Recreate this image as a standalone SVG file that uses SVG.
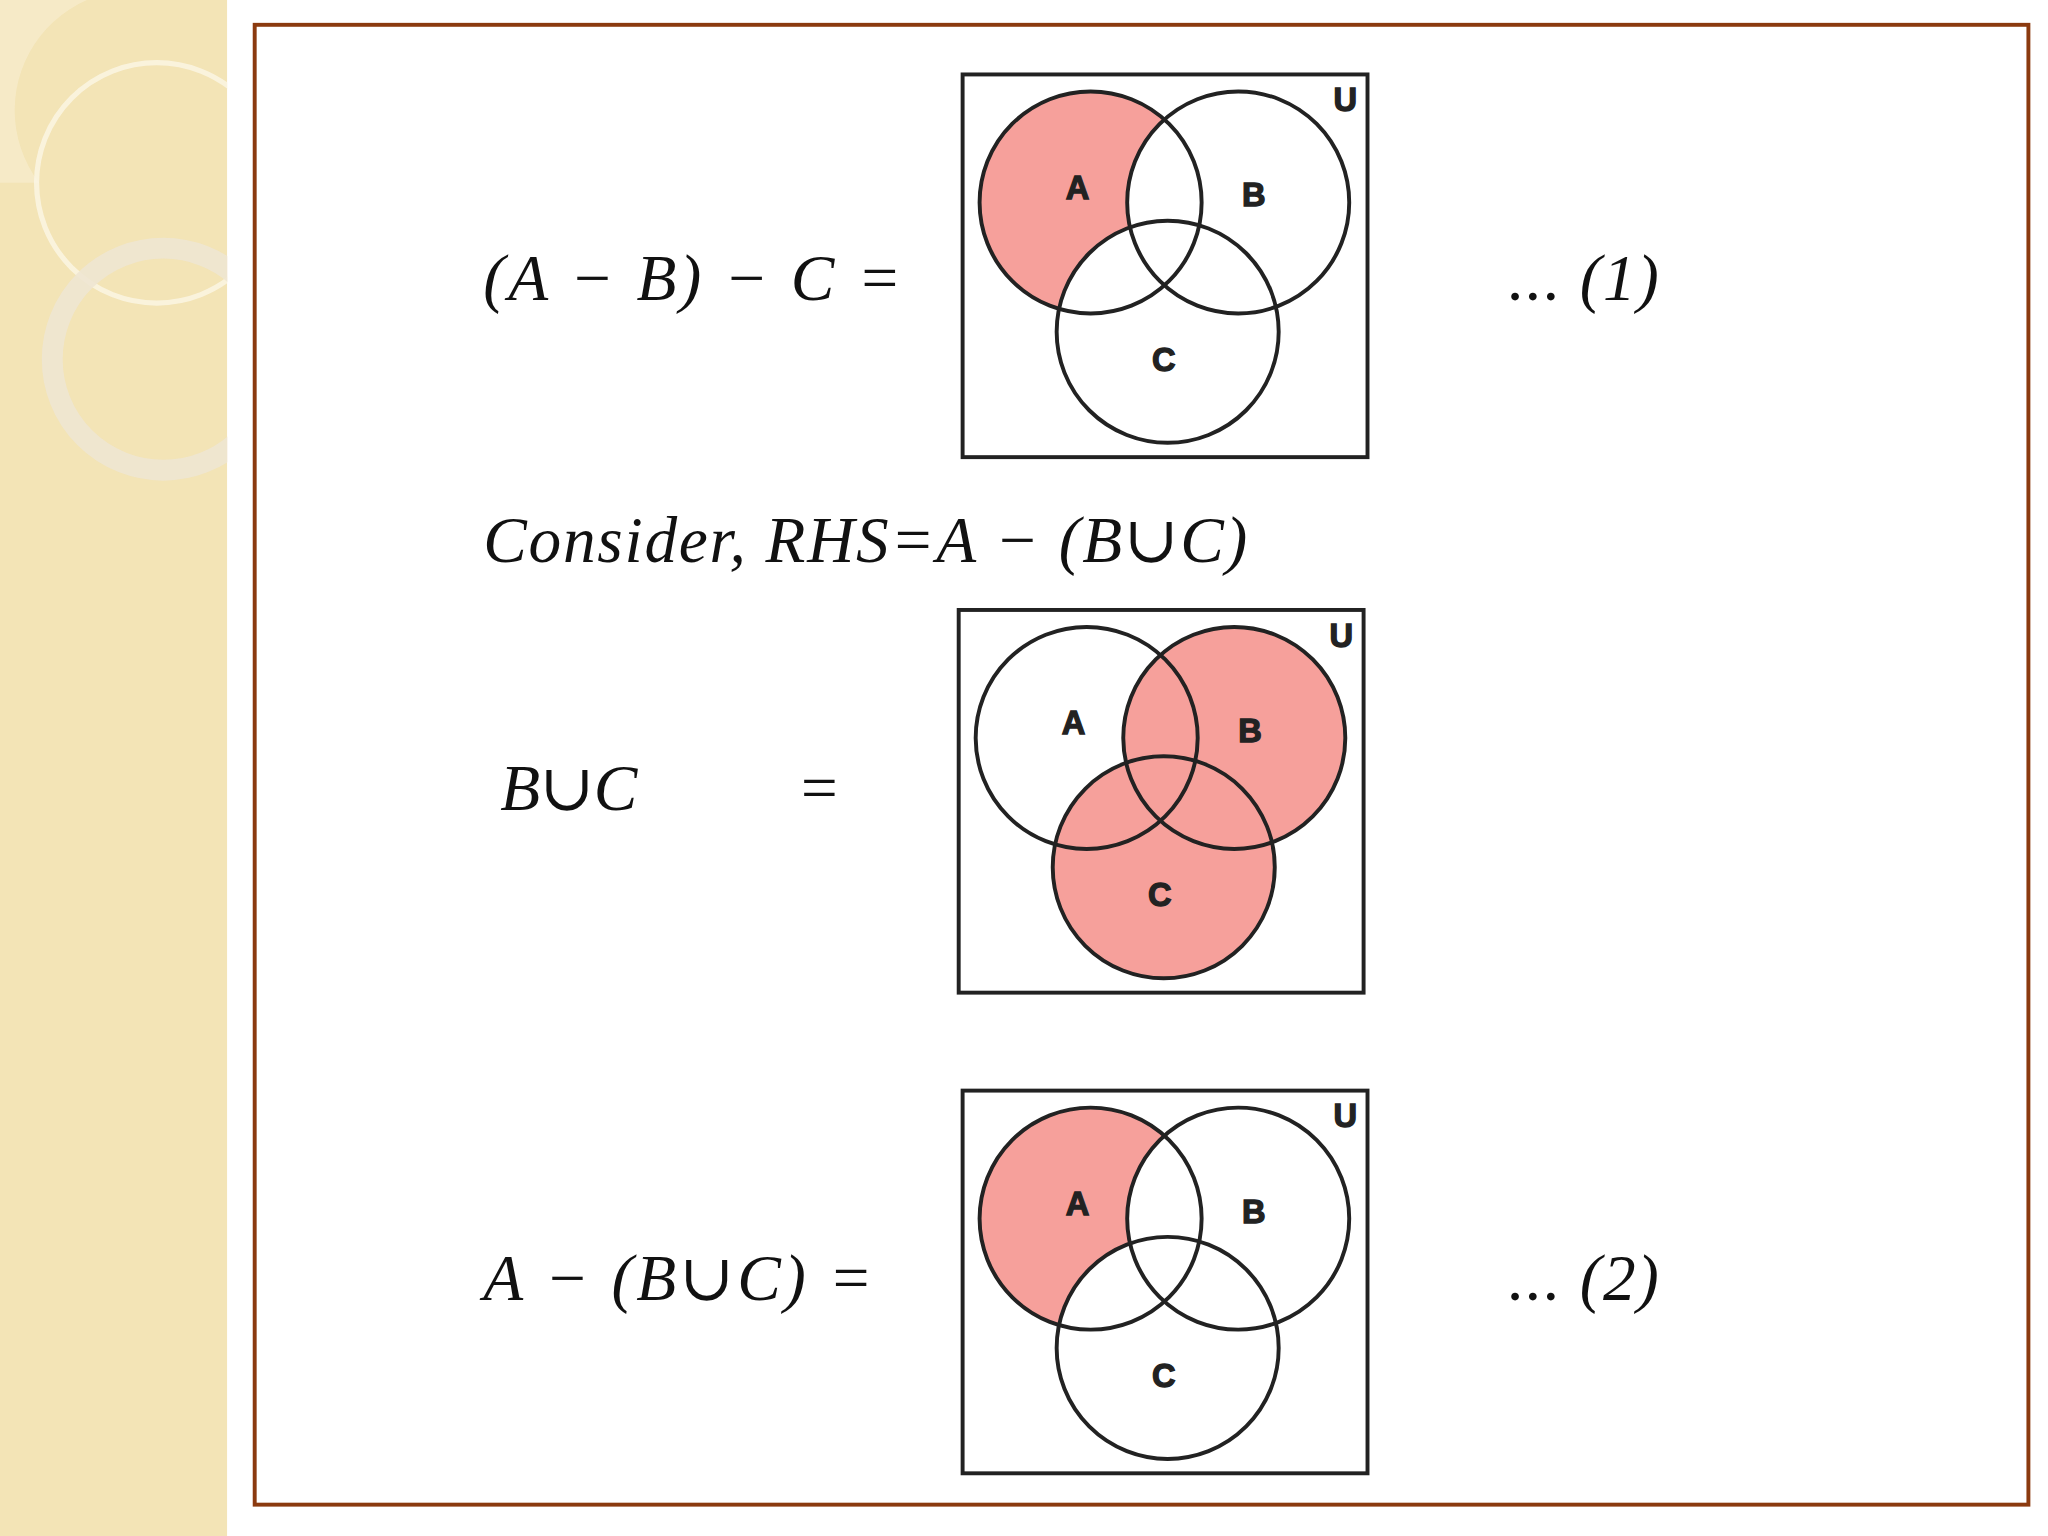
<svg xmlns="http://www.w3.org/2000/svg" width="2048" height="1536" viewBox="0 0 2048 1536">
<defs>
<style>
.c{fill:none;stroke:#222;stroke-width:3}
.box{fill:none;stroke:#222;stroke-width:3}
.lbl{font-family:"Liberation Sans",Arial,sans-serif;font-weight:bold;font-size:25px;fill:#222;text-anchor:middle;stroke:#222;stroke-width:1}
.m{font-family:"Liberation Serif","DejaVu Serif",serif;font-style:italic;font-size:50px;fill:#111}
.p{fill:#f6a09b}
</style>
<clipPath id="stripclip"><rect x="0" y="0" width="174" height="1176"/></clipPath>
<g id="venn">
<rect class="box" x="737" y="57" width="310" height="293"/>
<circle class="c" cx="835" cy="155" r="85"/>
<circle class="c" cx="948" cy="155" r="85"/>
<circle class="c" cx="894" cy="254" r="85"/>
<text class="lbl" x="825" y="152">A</text>
<text class="lbl" x="960" y="158">B</text>
<text class="lbl" x="891" y="284">C</text>
<text class="lbl" x="1030" y="85">U</text>
</g>
<mask id="amb" maskUnits="userSpaceOnUse" x="0" y="0" width="1568" height="1176">
<rect x="0" y="0" width="1568" height="1176" fill="white"/>
<circle cx="948" cy="155" r="85" fill="black"/>
<circle cx="894" cy="254" r="85" fill="black"/>
</mask>
</defs>
<rect width="2048" height="1536" fill="#fff"/>
<g transform="scale(1.30612)">
<g id="strip" clip-path="url(#stripclip)">
<rect x="0" y="0" width="174" height="1176" fill="#f3e4b6"/>
<path d="M0 0 H140 A92 92 0 0 0 30 140 L0 140 Z" fill="#f8efd2" opacity="0.6"/>
<circle cx="120" cy="140" r="92" fill="none" stroke="#fbf6e6" stroke-width="4" opacity="0.8"/>
<circle cx="125" cy="275" r="85" fill="none" stroke="#eee6d2" stroke-width="16" opacity="0.9"/>
</g>
<rect id="frame" x="195" y="19" width="1358" height="1133" fill="#fff" stroke="#8b3a0f" stroke-width="3"/>
<g id="venn1">
<circle class="p" cx="835" cy="155" r="85" mask="url(#amb)"/>
<use href="#venn"/>
</g>
<g id="venn2" transform="translate(-3,410)">
<circle class="p" cx="948" cy="155" r="85"/>
<circle class="p" cx="894" cy="254" r="85"/>
<use href="#venn"/>
</g>
<g id="venn3" transform="translate(0,778)">
<circle class="p" cx="835" cy="155" r="85" mask="url(#amb)"/>
<use href="#venn"/>
</g>
<g id="texts">
<text class="m" x="370" y="230" textLength="320">(A − B) − C =</text>
<text class="m" x="1155" y="230" textLength="115">... (1)</text>
<text class="m" x="370" y="430" textLength="585">Consider, RHS=A − (B∪C)</text>
<text class="m" x="383" y="620" textLength="105">B∪C</text>
<text class="m" x="610" y="620">=</text>
<text class="m" x="370" y="995" textLength="298">A − (B∪C) =</text>
<text class="m" x="1155" y="995" textLength="115">... (2)</text>
</g>
</g>
</svg>
